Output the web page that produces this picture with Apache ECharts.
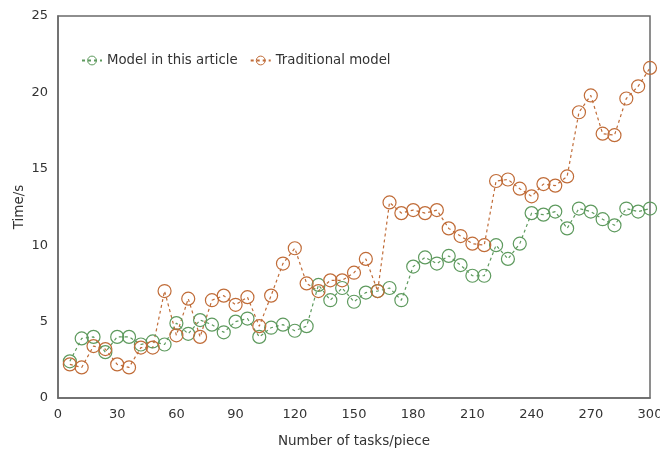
<!DOCTYPE html>
<html>
<head>
<meta charset="utf-8">
<script src="https://cdn.jsdelivr.net/npm/echarts@6/dist/echarts.min.js"></script>
<style>html,body{margin:0;padding:0;background:#fff}#c{width:660px;height:450px}</style>
</head>
<body>
<div id="c"></div>
<script>
var tasks = [6,12,18,24,30,36,42,48,54,60,66,72,78,84,90,96,102,108,114,120,126,132,138,144,150,156,162,168,174,180,186,192,198,204,210,216,222,228,234,240,246,252,258,264,270,276,282,288,294,300];
var modelThis = [2.4,3.9,4.0,3.0,4.0,4.0,3.5,3.7,3.5,4.9,4.2,5.1,4.8,4.3,5.0,5.2,4.0,4.6,4.8,4.4,4.7,7.4,6.4,7.2,6.3,6.9,7.0,7.2,6.4,8.6,9.2,8.8,9.3,8.7,8.0,8.0,10.0,9.1,10.1,12.1,12.0,12.2,11.1,12.4,12.2,11.7,11.3,12.4,12.2,12.4];
var traditional = [2.2,2.0,3.4,3.2,2.2,2.0,3.3,3.3,7.0,4.1,6.5,4.0,6.4,6.7,6.1,6.6,4.7,6.7,8.8,9.8,7.5,7.0,7.7,7.7,8.2,9.1,7.0,12.8,12.1,12.3,12.1,12.3,11.1,10.6,10.1,10.0,14.2,14.3,13.7,13.2,14.0,13.9,14.5,18.7,19.8,17.3,17.2,19.6,20.4,21.6];
var seriesNames = ['Model in this article','Traditional model'];

function pairs(ys){ return ys.map(function(v,i){ return [tasks[i], v]; }); }
var font = 'DejaVu Sans';
var chart = echarts.init(document.getElementById('c'), null, {renderer:'canvas'});
function mk(name, ys, col){
  return {
    name: name, type:'line', data: pairs(ys),
    symbol:'circle', symbolSize:13,
    itemStyle:{color:'rgba(255,255,255,0)', borderColor:col, borderWidth:1.2},
    lineStyle:{color:col, width:1.2, type:[3,3]},
    emphasis:{disabled:true}, animation:false
  };
}
chart.setOption({
  animation:false,
  backgroundColor:'#fff',
  grid:{left:58, right:10, top:16, bottom:52, show:true, borderColor:'#6a6a6a', borderWidth:1.5, containLabel:false, outerBoundsMode:'none'},
  legend:{
    left:76, top:49, itemWidth:20, itemHeight:11, itemGap:12,
    textStyle:{fontFamily:font, fontSize:13.3, color:'#333'},
    data:[
      {name:seriesNames[0], itemStyle:{color:'rgba(255,255,255,0)', borderColor:'#5e9a5e', borderWidth:1}},
      {name:seriesNames[1], itemStyle:{color:'rgba(255,255,255,0)', borderColor:'#c06c38', borderWidth:1}}
    ]
  },
  xAxis:{
    type:'value', min:0, max:300, interval:30,
    name:'Number of tasks/piece', nameLocation:'middle', nameGap:36, nameMoveOverlap:false,
    nameTextStyle:{fontFamily:font, fontSize:13.5, color:'#333'},
    axisLine:{show:true, lineStyle:{color:'#6a6a6a', width:1.5}},
    axisTick:{show:false}, splitLine:{show:false},
    axisLabel:{fontFamily:font, fontSize:13, color:'#333', margin:10}
  },
  yAxis:{
    type:'value', min:0, max:25, interval:5,
    name:'Time/s', nameLocation:'middle', nameGap:32, nameMoveOverlap:false,
    nameTextStyle:{fontFamily:font, fontSize:13.5, color:'#333'},
    axisLine:{show:true, lineStyle:{color:'#6a6a6a', width:1.5}},
    axisTick:{show:false}, splitLine:{show:false},
    axisLabel:{fontFamily:font, fontSize:13, color:'#333', margin:10}
  },
  series:[ mk(seriesNames[0], modelThis, '#5e9a5e'), mk(seriesNames[1], traditional, '#c06c38') ]
});
</script>
</body>
</html>
